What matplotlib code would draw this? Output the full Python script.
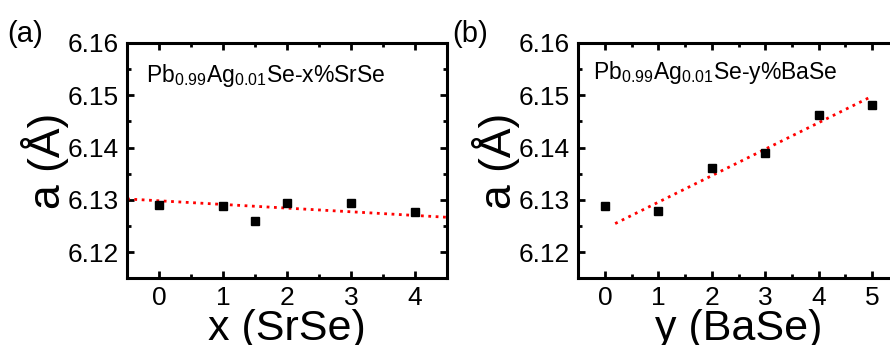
import matplotlib
matplotlib.use('Agg')
import matplotlib.pyplot as plt
import numpy as np

plt.rcParams['font.family'] = ['Liberation Sans', 'DejaVu Sans']
plt.rcParams['mathtext.default'] = 'regular'

# panel (a): SrSe
x_sr = [0, 1, 1.5, 2, 3, 4]
a_sr = [6.1290, 6.1288, 6.1260, 6.1294, 6.1295, 6.1278]
fit_sr_x = [-0.5, 4.5]
fit_sr_y = [6.1302, 6.1267]

# panel (b): BaSe
y_ba = [0, 1, 2, 3, 4, 5]
a_ba = [6.1289, 6.1279, 6.1361, 6.1389, 6.1463, 6.1481]
fit_ba_x = [0.19, 5.0]
fit_ba_y = [6.1255, 6.1498]

yticks = [6.12, 6.13, 6.14, 6.15, 6.16]

fig = plt.figure(figsize=(8.9, 3.45), dpi=100)
ax1 = fig.add_axes([0.1427, 0.194, 0.3596, 0.682])
ax2 = fig.add_axes([0.6498, 0.194, 0.3600, 0.682])


def style(ax, xticks, xlim):
    ax.set_xlim(*xlim)
    ax.set_ylim(6.1151, 6.16)
    ax.set_xticks(xticks)
    ax.set_xticks([t + 0.5 for t in xticks[:-1]], minor=True)
    ax.set_yticks(yticks)
    ax.set_yticks([t + 0.005 for t in yticks[:-1]], minor=True)
    ax.set_yticklabels(['%.2f' % t for t in yticks])
    ax.tick_params(which='both', direction='in', top=True, right=True,
                   width=2, labelsize=19, pad=6)
    ax.tick_params(which='major', length=5)
    ax.tick_params(which='minor', length=3)
    for s in ax.spines.values():
        s.set_linewidth(2.2)


ax1.plot(fit_sr_x, fit_sr_y, ':', color='red', lw=2)
ax1.plot(x_sr, a_sr, 's', color='black', ms=6)
style(ax1, [0, 1, 2, 3, 4], (-0.5, 4.5))
ax1.set_xlabel('x (SrSe)', fontsize=31, labelpad=-1)
ax1.set_ylabel('a (Å)', fontsize=32, labelpad=-1)
ax1.text(0.06, 0.86, 'Pb$_{0.99}$Ag$_{0.01}$Se-x%SrSe', transform=ax1.transAxes,
         fontsize=16.5, va='center')
fig.text(0.008, 0.9, '(a)', fontsize=21, va='center')

ax2.plot(fit_ba_x, fit_ba_y, ':', color='red', lw=2)
ax2.plot(y_ba, a_ba, 's', color='black', ms=6)
style(ax2, [0, 1, 2, 3, 4, 5], (-0.5, 5.5))
ax2.set_xlabel('y (BaSe)', fontsize=31, labelpad=-1)
ax2.set_ylabel('a (Å)', fontsize=32, labelpad=-1)
ax2.text(0.045, 0.875, 'Pb$_{0.99}$Ag$_{0.01}$Se-y%BaSe', transform=ax2.transAxes,
         fontsize=16.5, va='center')
fig.text(0.508, 0.9, '(b)', fontsize=21, va='center')

fig.savefig('out.png', dpi=100)
